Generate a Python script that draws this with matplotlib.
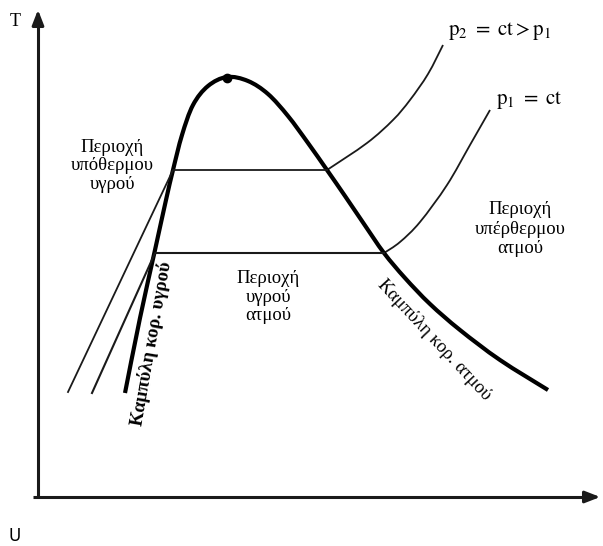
import numpy as np
import matplotlib
matplotlib.use("Agg")
import matplotlib.pyplot as plt
from matplotlib.path import Path
from matplotlib.patches import PathPatch

plt.rcParams['mathtext.fontset'] = 'stix'

# Curves (pixel-like coordinates, y downward)
dome_x = [125, 140, 155, 166, 173, 182, 193, 208, 227,
          248, 268, 288, 308, 327, 345, 364, 384, 405, 430, 460, 500, 548]
dome_y = [393, 318, 250, 200, 170, 135, 105, 86, 77,
          81, 94, 116, 143, 170, 196, 224, 253, 278, 304, 330, 360, 390]
crit_x, crit_y = 227, 78

p2_x = [68, 173, 327, 367, 393, 410, 428, 443]
p2_y = [392, 170, 170, 143, 120, 100, 74, 45]
p1_x = [92, 155, 384, 400, 420, 447, 470, 490]
p1_y = [393, 253, 253, 242, 222, 185, 145, 110]


def smooth_path(xs, ys):
    pts = np.column_stack([xs, ys]).astype(float)
    verts = [pts[0]]
    codes = [Path.MOVETO]
    n = len(pts)
    for i in range(n - 1):
        p0 = pts[i - 1] if i > 0 else pts[i]
        p1 = pts[i]
        p2 = pts[i + 1]
        p3 = pts[i + 2] if i + 2 < n else pts[i + 1]
        c1 = p1 + (p2 - p0) / 6.0
        c2 = p2 - (p3 - p1) / 6.0
        verts += [c1, c2, p2]
        codes += [Path.CURVE4] * 3
    return Path(verts, codes)


fig = plt.figure(figsize=(6.03, 5.46), dpi=100)
ax = fig.add_axes([0, 0, 1, 1])
ax.set_xlim(0, 603)
ax.set_ylim(546, 0)
ax.axis('off')

# axes with arrows
ax.plot([38, 38], [498, 20], color='#1a1a1a', lw=2.2, solid_capstyle='butt')
ax.plot([33, 592], [497, 497], color='#1a1a1a', lw=2.2, solid_capstyle='butt')
ax.annotate('', xy=(38, 7), xytext=(38, 26),
            arrowprops=dict(arrowstyle='-|>,head_length=0.9,head_width=0.35', color='#1a1a1a', lw=2.2))
ax.annotate('', xy=(603, 497), xytext=(585, 497),
            arrowprops=dict(arrowstyle='-|>,head_length=0.9,head_width=0.35', color='#1a1a1a', lw=2.2))

# isobars: straight segments in liquid zone, curve in vapour zone
ax.plot(p2_x[:3], p2_y[:3], color='#1a1a1a', lw=1.3)
ax.plot(p1_x[:3], p1_y[:3], color='#1a1a1a', lw=1.5)
ax.add_patch(PathPatch(smooth_path(p2_x[2:], p2_y[2:]), fill=False, ec='#1a1a1a', lw=1.3))
ax.add_patch(PathPatch(smooth_path(p1_x[2:], p1_y[2:]), fill=False, ec='#1a1a1a', lw=1.3))

# saturation dome
ax.add_patch(PathPatch(smooth_path(dome_x, dome_y), fill=False, ec='black', lw=3.0,
                       capstyle='butt', joinstyle='round'))
ax.plot([crit_x], [crit_y], 'o', color='black', ms=6)

serif = ['Liberation Serif', 'DejaVu Serif']
fs = 13.5
ax.text(15, 22, 'T', family=serif, fontsize=13, ha='center', va='center')
ax.text(15, 536, 'U', family='DejaVu Sans', fontsize=12, ha='center', va='center')

ax.text(112, 166, 'Περιοχή\nυπόθερμου\nυγρού', family=serif, fontsize=fs,
        ha='center', va='center', linespacing=1.15)
ax.text(520, 229, 'Περιοχή\nυπέρθερμου\nατμού', family=serif, fontsize=fs,
        ha='center', va='center', linespacing=1.2)
ax.text(268, 297, 'Περιοχή\nυγρού\nατμού', family=serif, fontsize=fs,
        ha='center', va='center', linespacing=1.12)

ax.text(152, 344, 'Καμπύλη κορ. υγρού', family=serif, fontsize=fs, fontweight='bold',
        ha='center', va='center', rotation=80, rotation_mode='anchor')
ax.text(434, 340, 'Καμπύλη κορ. ατμού', family=serif, fontsize=fs,
        ha='center', va='center', rotation=-47, rotation_mode='anchor')

ax.text(448, 31, r'$\mathrm{p_2\ =\ ct > p_1}$', fontsize=15, ha='left', va='center')
ax.text(496, 100, r'$\mathrm{p_1\ =\ ct}$', fontsize=15, ha='left', va='center')

fig.savefig('out.png', dpi=100)
